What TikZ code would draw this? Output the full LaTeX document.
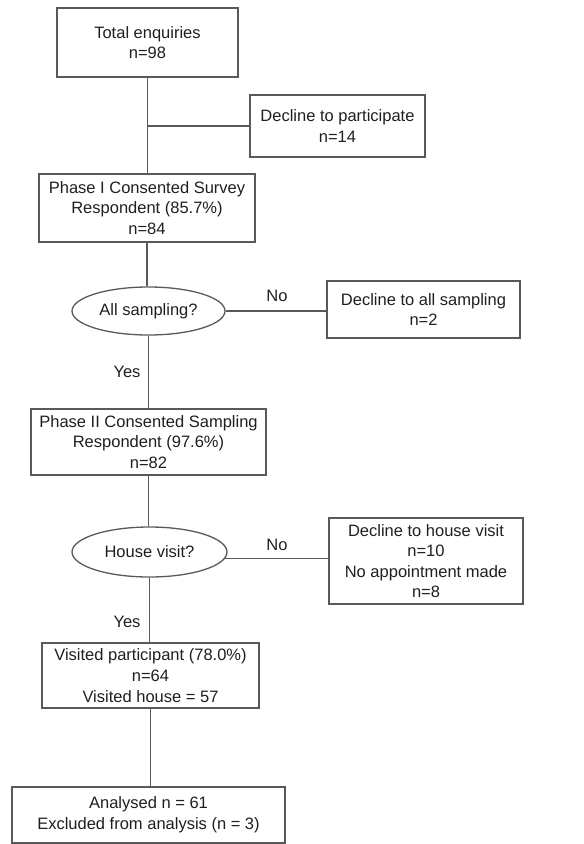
\documentclass[tikz,border=0pt]{standalone}
\usepackage{fontspec}
\setmainfont{Liberation Sans}
\usetikzlibrary{shapes.geometric}
\begin{document}
\begin{tikzpicture}[x=1pt,y=-1pt,
  every node/.style={font=\fontsize{16.5}{20.6}\selectfont, text=black!88, align=center, inner sep=0pt},
  box/.style={draw=black!65, line width=1.3pt, rectangle},
  oval/.style={draw=black!65, line width=1.3pt, ellipse},
  conn/.style={draw=black!65, line width=1.3pt},
  lbl/.style={}]
\useasboundingbox (0,0) rectangle (584,844);
\node[box, minimum width=181, minimum height=69] (b1) at (147.5,42.5) {Total enquiries\\n=98};
\node[box, minimum width=175, minimum height=62] (dec) at (337.5,126) {Decline to participate\\n=14};
\node[box, minimum width=216, minimum height=68] (p1) at (147,208) {Phase I Consented Survey\\Respondent (85.7\%)\\n=84};
\node[oval, minimum width=153, minimum height=48] (e1) at (148.5,311) {All sampling?};
\node[box, minimum width=193, minimum height=57] (da) at (423.5,309.5) {Decline to all sampling\\n=2};
\node[box, minimum width=235, minimum height=66] (p2) at (148.5,442) {Phase II Consented Sampling\\Respondent (97.6\%)\\n=82};
\node[oval, minimum width=155, minimum height=50] (e2) at (149.5,552) {House visit?};
\node[box, minimum width=194, minimum height=86] (dh) at (426,561) {Decline to house visit\\n=10\\No appointment made\\n=8};
\node[box, minimum width=217, minimum height=65] (v) at (150.5,675.5) {Visited participant (78.0\%)\\n=64\\Visited house = 57};
\node[box, minimum width=273, minimum height=56] (an) at (148.5,815) {Analysed n = 61\\Excluded from analysis (n = 3)};
\node[lbl] (no1) at (277,296) {No};
\node[lbl] (no2) at (277,545) {No};
\node[lbl] (yes1) at (127,372) {Yes};
\node[lbl] (yes2) at (127,622) {Yes};
\draw[conn] (b1.south) -- (b1.south |- p1.north);
\draw[conn] (b1.south |- dec.west) -- (dec.west);
\draw[conn] (p1.south) -- (p1.south |- e1.north);
\draw[conn] (e1.east) -- (e1.east -| da.west);
\draw[conn] (e1.south) -- (e1.south |- p2.north);
\draw[conn] (p2.south) -- (p2.south |- e2.north);
\draw[conn] (e2.-5) -- (e2.-5 -| dh.west);
\draw[conn] (e2.south) -- (e2.south |- v.north);
\draw[conn] (v.south) -- (v.south |- an.north);
\end{tikzpicture}
\end{document}
